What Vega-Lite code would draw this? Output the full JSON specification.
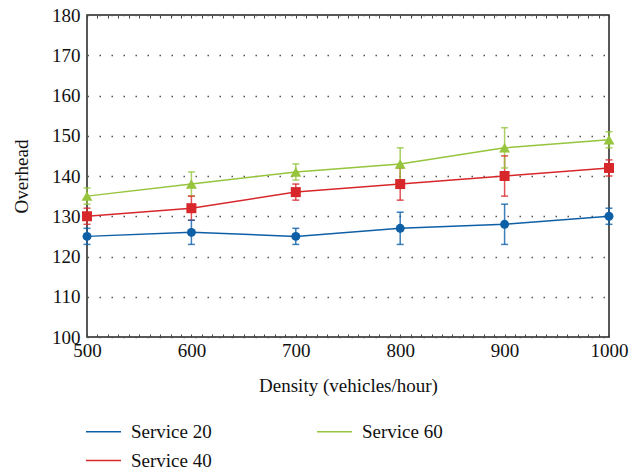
{
  "$schema": "https://vega.github.io/schema/vega-lite/v6.json",
  "autosize": {"type": "none"},
  "width": 522,
  "height": 322,
  "padding": {"left": 87, "top": 15, "right": 30, "bottom": 133},
  "background": "white",
  "config": {
    "font": "Liberation Serif",
    "view": {"stroke": "#222", "strokeWidth": 1.5},
    "axis": {"labelFontSize": 19, "titleFontSize": 19, "labelColor": "#111", "titleColor": "#111", "titleFontWeight": "normal", "domain": false}
  },
  "data": {
    "values": [
      {"density": 500, "series": "Service 20", "overhead": 125, "lo": 123, "hi": 127},
      {"density": 600, "series": "Service 20", "overhead": 126, "lo": 123, "hi": 129},
      {"density": 700, "series": "Service 20", "overhead": 125, "lo": 123, "hi": 127},
      {"density": 800, "series": "Service 20", "overhead": 127, "lo": 123, "hi": 131},
      {"density": 900, "series": "Service 20", "overhead": 128, "lo": 123, "hi": 133},
      {"density": 1000, "series": "Service 20", "overhead": 130, "lo": 128, "hi": 132},
      {"density": 500, "series": "Service 40", "overhead": 130, "lo": 128, "hi": 132},
      {"density": 600, "series": "Service 40", "overhead": 132, "lo": 129, "hi": 135},
      {"density": 700, "series": "Service 40", "overhead": 136, "lo": 134, "hi": 138},
      {"density": 800, "series": "Service 40", "overhead": 138, "lo": 134, "hi": 142},
      {"density": 900, "series": "Service 40", "overhead": 140, "lo": 135, "hi": 145},
      {"density": 1000, "series": "Service 40", "overhead": 142, "lo": 140, "hi": 144},
      {"density": 500, "series": "Service 60", "overhead": 135, "lo": 133, "hi": 137},
      {"density": 600, "series": "Service 60", "overhead": 138, "lo": 135, "hi": 141},
      {"density": 700, "series": "Service 60", "overhead": 141, "lo": 139, "hi": 143},
      {"density": 800, "series": "Service 60", "overhead": 143, "lo": 139, "hi": 147},
      {"density": 900, "series": "Service 60", "overhead": 147, "lo": 142, "hi": 152},
      {"density": 1000, "series": "Service 60", "overhead": 149, "lo": 147, "hi": 151}
    ]
  },
  "encoding": {
    "x": {"field": "density", "type": "quantitative", "scale": {"domain": [500, 1000], "nice": false, "zero": false}, "axis": null},
    "color": {"field": "series", "type": "nominal", "scale": {"domain": ["Service 20", "Service 60", "Service 40"], "range": ["#0d5fa6", "#96c43d", "#d7272b"]}, "legend": null}
  },
  "layer": [
    {
      "mark": {"type": "line", "strokeWidth": 1.5},
      "encoding": {
        "x": {"field": "density", "type": "quantitative", "scale": {"domain": [500, 1000], "nice": false, "zero": false},
          "axis": {"title": "Density (vehicles/hour)", "titlePadding": 16, "format": "d", "labelFont": "Liberation Serif", "titleFont": "Liberation Serif", "values": [500,510,520,530,540,550,560,570,580,590,600,610,620,630,640,650,660,670,680,690,700,710,720,730,740,750,760,770,780,790,800,810,820,830,840,850,860,870,880,890,900,910,920,930,940,950,960,970,980,990,1000],
            "labelExpr": "datum.value % 100 === 0 ? datum.label : ''", "tickSize": -3, "tickColor": "#444", "labelPadding": 7, "grid": false, "labelFlush": false}},
        "y": {"field": "overhead", "type": "quantitative", "scale": {"domain": [100, 180], "nice": false, "zero": false},
          "axis": {"title": "Overhead", "titlePadding": 20, "labelFont": "Liberation Serif", "titleFont": "Liberation Serif", "values": [100,110,120,130,140,150,160,170,180], "ticks": false, "labelPadding": 7, "grid": true, "gridColor": "#555", "gridDash": [1.5, 10.5], "gridWidth": 1.3}},
        "color": {"field": "series", "type": "nominal",
          "legend": {"title": null, "orient": "none", "legendX": -2, "legendY": 398, "direction": "horizontal", "columns": 2, "symbolType": "stroke", "symbolSize": 1225, "symbolStrokeWidth": 1.5, "labelFont": "Liberation Serif", "labelFontSize": 19, "labelColor": "#111", "columnPadding": 102, "rowPadding": 0, "labelOffset": 9}}
      }
    },
    {
      "mark": {"type": "rule", "strokeWidth": 1.5, "opacity": 0.8},
      "encoding": {
        "y": {"field": "lo", "type": "quantitative"},
        "y2": {"field": "hi"}
      }
    },
    {
      "mark": {"type": "tick", "orient": "horizontal", "size": 7, "thickness": 1.5, "opacity": 0.8},
      "encoding": {"y": {"field": "lo", "type": "quantitative"}}
    },
    {
      "mark": {"type": "tick", "orient": "horizontal", "size": 7, "thickness": 1.5, "opacity": 0.8},
      "encoding": {"y": {"field": "hi", "type": "quantitative"}}
    },
    {
      "mark": {"type": "point", "filled": true, "opacity": 1},
      "encoding": {
        "y": {"field": "overhead", "type": "quantitative"},
        "shape": {"field": "series", "type": "nominal", "scale": {"domain": ["Service 20", "Service 40", "Service 60"], "range": ["circle", "square", "triangle-up"]}, "legend": null},
        "size": {"field": "series", "type": "nominal", "scale": {"domain": ["Service 20", "Service 40", "Service 60"], "range": [80, 120, 75]}, "legend": null}
      }
    },
    {
      "mark": {"type": "rule", "strokeWidth": 0},
      "encoding": {
        "x": {"field": "density", "type": "quantitative", "axis": {"orient": "top", "title": null, "labels": false, "values": [500,510,520,530,540,550,560,570,580,590,600,610,620,630,640,650,660,670,680,690,700,710,720,730,740,750,760,770,780,790,800,810,820,830,840,850,860,870,880,890,900,910,920,930,940,950,960,970,980,990,1000], "tickSize": -3, "tickColor": "#444", "grid": false}},
        "color": {"value": "transparent"}
      }
    }
  ],
  "resolve": {"axis": {"x": "independent"}, "scale": {"color": "independent"}}
}
